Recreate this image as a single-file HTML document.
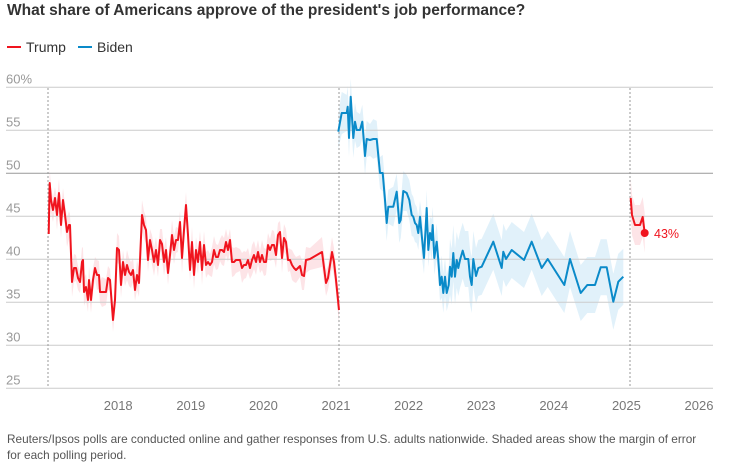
<!DOCTYPE html>
<html><head><meta charset="utf-8"><style>
body{margin:0;background:#fff;width:736px;height:467px;overflow:hidden;font-family:"Liberation Sans",sans-serif}
.t{position:absolute;left:7px;top:2px;font-size:15.5px;font-weight:bold;color:#333}
.lg{position:absolute;top:39px;font-size:14px;color:#333}
.lg span{display:inline-block;width:14px;height:2px;vertical-align:middle;margin-right:5px;position:relative;top:-1px}
.f{position:absolute;left:7px;top:431px;font-size:11.8px;color:#555;line-height:16px;width:702px}
</style></head><body>
<div class="t">What share of Americans approve of the president's job performance?</div>
<div class="lg" style="left:7px"><span style="background:#f0141e"></span>Trump</div>
<div class="lg" style="left:78px"><span style="background:#0a8ac9"></span>Biden</div>
<svg id="s" width="736" height="467" style="position:absolute;left:0;top:0" font-family="Liberation Sans, sans-serif"></svg>
<div class="f">Reuters/Ipsos polls are conducted online and gather responses from U.S. adults nationwide. Shaded areas show the margin of error<br>for each polling period.</div>
<script>
var T1=[[48.7,234],[49.7,183],[51,200],[53,210],[55,198],[57,215],[59,193],[61,225],[63,200],[65,215],[67,232],[69,225],[70,225],[72,282],[74,268],[76,268],[78,278],[80,282],[82,262],[83,260],[84,292],[86,287],[88,300],[89,280],[91,300],[93,280],[95,268],[97,275],[99,275],[100,292],[102,292],[106,292],[108,278],[110,280],[113,320],[115,300],[117,248],[119,250],[121,285],[123,262],[125,275],[127,265],[129,272],[131,275],[133,270],[135,290],[137,275],[139,283],[142,215],[144,225],[146,230],[148,260],[150,240],[152,250],[154,262],[156,250],[158,265],[160,240],[162,244],[164,262],[166,250],[168,273],[170,255],[172,235],[174,250],[176,240],[178,240],[180,222],[182,258],[184,230],[186,205],[188,235],[190,270],[192,242],[194,275],[196,250],[198,262],[200,242],[202,270],[204,245],[206,265],[208,262],[210,265],[212,262],[214,250],[216,257],[218,257],[220,250],[222,250],[224,252],[226,242],[228,250],[230,240],[232,262],[234,262],[236,260],[240,260],[242,268],[244,265],[246,265],[248,260],[250,268],[252,260],[254,255],[256,262],[258,252],[260,262],[262,255],[264,262],[266,262],[268,245],[270,250],[272,245],[274,245],[276,255],[278,235],[280,232],[282,258],[284,238],[286,242],[288,260],[290,260],[292,265],[294,268],[296,270],[298,268],[300,266],[302,275],[304,276],[306,260],[310,259],[322,252],[326,283],[328,278],[332,252],[334,262],[336,280],[339,310]];
var T2=[[630.7,198],[632,215],[635,225],[640,225],[642.7,217],[644.7,233]];
var B=[[338.3,131.7],[341.7,113],[346.7,113],[347.7,106.7],[349,138],[350.7,96.7],[353.3,138],[355,121.7],[356.7,130],[360,130],[362.3,121.7],[365,156],[366.7,139],[370,140],[373.3,139],[376.7,139],[380,173],[382.7,173],[385,200],[386.7,223],[388.3,206.7],[393.3,206.7],[396.7,191.7],[399.3,223],[400.7,220],[403.3,191],[406.7,193],[409.3,200],[411.7,215],[413.3,216.7],[415,223],[416.7,225],[418.3,233],[420,216.7],[421.7,235],[424,258],[426.7,208],[428.3,250],[430,233],[431.7,240],[432.7,225],[434.3,258],[436.7,241.7],[438.3,260],[440,285],[441.7,276.7],[443.3,293],[445,276.7],[446.7,293],[448.7,285],[450,266.7],[451.7,276.7],[453.3,253],[455,276.7],[456.7,260],[458.3,268],[460,260],[462.7,250.7],[465,259],[468.3,259],[470,276.7],[471.7,285],[473.3,259],[476,276],[478.3,268],[481.7,266.7],[493.3,241.7],[501.7,268],[503.3,251.7],[506,259],[511.7,250],[524,260],[531.7,241.7],[541.7,268],[547.7,259],[564.3,285],[570,259],[580.7,293],[587.3,285],[595,285],[600.7,267.3],[606.7,267.3],[613.3,301.7],[618.3,281.7],[623.3,276.7]];
var h='';
function band(p,f,c){var a=p.map(q=>q[0]+','+(q[1]-f(q))).join(' '),b=p.slice().reverse().map(q=>q[0]+','+(q[1]+f(q))).join(' ');return '<polygon points="'+a+' '+b+'" fill="'+c+'"/>';}
h+=band(T1,q=>11+((q[0]*7)%5),'#fde4e7');
h+=band(T2,q=>20,'#fde4e7');
h+=band(B,q=>q[0]<450?16+((q[0]*3)%6):28,'#e1f1fa');
var labs=['60%','55','50','45','40','35','30','25'];
for(var i=0;i<8;i++){var y=87.3+i*43;h+='<line x1="6" x2="713" y1="'+y+'" y2="'+y+'" stroke="'+(i==2?'#999':'#ccc')+'" stroke-width="1"/><text x="6" y="'+(y-4)+'" font-size="13" fill="#999">'+labs[i]+'</text>';}
[48,339,630].forEach(x=>h+='<line x1="'+x+'" x2="'+x+'" y1="88" y2="387" stroke="#999" stroke-dasharray="2,2"/>');
for(var yr=2018;yr<=2026;yr++){h+='<text x="'+(339+(yr-2021)*72.6-3)+'" y="410" font-size="13" fill="#777" text-anchor="middle">'+yr+'</text>';}
function pl(p,c){return '<polyline points="'+p.map(q=>q.join(',')).join(' ')+'" fill="none" stroke="'+c+'" stroke-width="2" stroke-linejoin="round"/>';}
h+=pl(T1,'#f0141e')+pl(T2,'#f0141e')+pl(B,'#0a8ac9');
h+='<circle cx="644.7" cy="233" r="4" fill="#f0141e"/><text x="654" y="238" font-size="12.5" fill="#f0141e">43%</text>';
document.getElementById('s').innerHTML=h;
</script>
</body></html>
